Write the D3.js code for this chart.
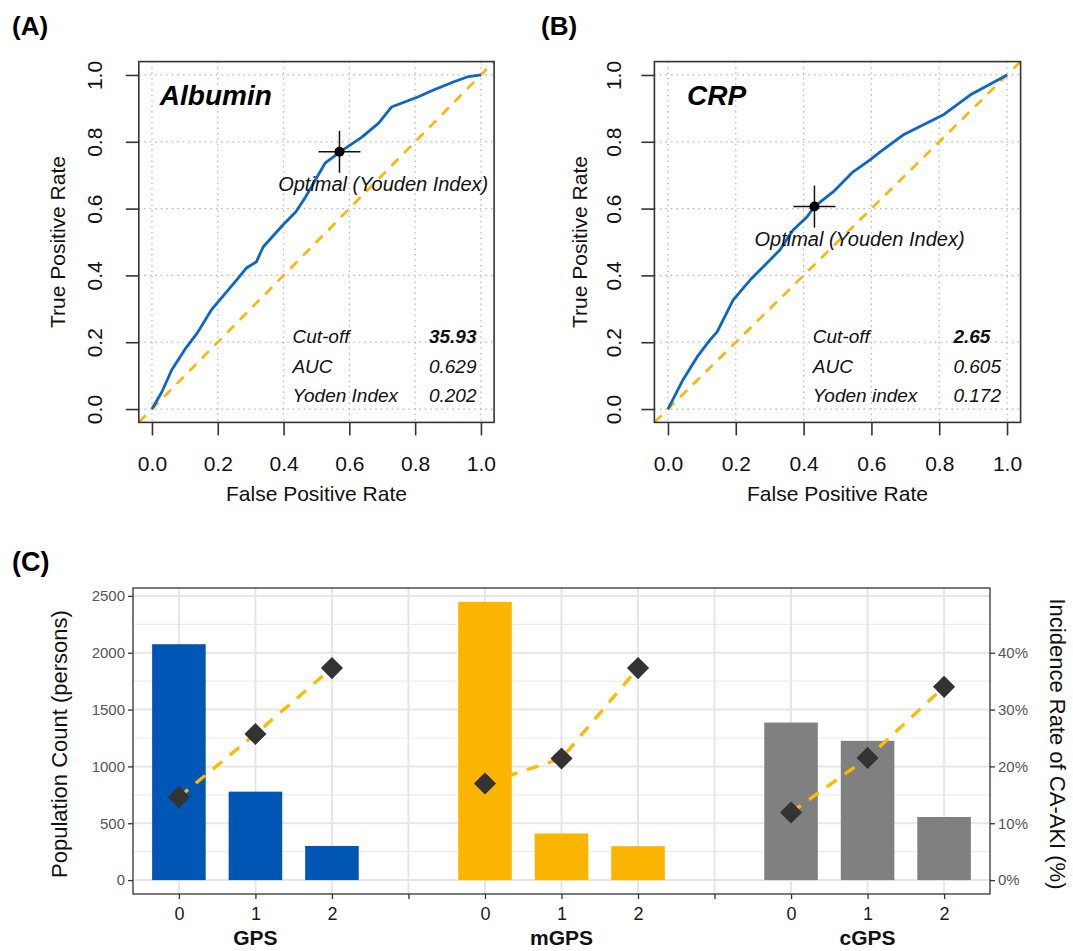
<!DOCTYPE html>
<html>
<head>
<meta charset="utf-8">
<script src="https://cdn.jsdelivr.net/npm/d3@7"></script>
<style>
  body { margin: 0; background: #fff; }
  svg { font-family: "Liberation Sans", Arial, sans-serif; }
</style>
</head>
<body>
<svg id="chart" width="1073" height="951"></svg>
<script>
// ---- ROC data ----
const albuminFpr = [0, 0.03, 0.06, 0.099, 0.138, 0.18, 0.257, 0.287, 0.317, 0.338, 0.398, 0.437, 0.467, 0.527, 0.572, 0.638, 0.689, 0.728, 0.808, 0.856, 0.916, 0.958, 1];
const albuminTpr = [0, 0.051, 0.117, 0.177, 0.228, 0.296, 0.386, 0.422, 0.44, 0.485, 0.551, 0.59, 0.635, 0.737, 0.77, 0.814, 0.856, 0.904, 0.934, 0.955, 0.979, 0.994, 1];
const crpFpr = [0, 0.044, 0.086, 0.124, 0.145, 0.192, 0.242, 0.292, 0.33, 0.369, 0.41, 0.431, 0.457, 0.487, 0.546, 0.596, 0.625, 0.693, 0.752, 0.811, 0.891, 1];
const crpTpr = [0, 0.087, 0.156, 0.207, 0.231, 0.326, 0.386, 0.437, 0.476, 0.536, 0.575, 0.605, 0.626, 0.65, 0.71, 0.746, 0.769, 0.82, 0.85, 0.88, 0.94, 1];
const albuminOptimal = [0.57, 0.77];
const crpOptimal = [0.432, 0.606];
const rocTicks = [0, 0.2, 0.4, 0.6, 0.8, 1.0];
const albuminStatLabels = ["Cut-off", "AUC", "Yoden Index"];
const albuminStatValues = ["35.93", "0.629", "0.202"];
const crpStatLabels = ["Cut-off", "AUC", "Yoden index"];
const crpStatValues = ["2.65", "0.605", "0.172"];

// ---- Panel C data ----
const groups = ["GPS", "mGPS", "cGPS"];
const scores = ["0", "1", "2"];
const gpsCounts = [2075, 778, 300];
const mgpsCounts = [2447, 410, 298];
const cgpsCounts = [1386, 1225, 555];
const gpsRates = [14.6, 25.7, 37.3];
const mgpsRates = [17.0, 21.4, 37.3];
const cgpsRates = [11.9, 21.5, 34.0];
const countTicks = [0, 500, 1000, 1500, 2000, 2500];
const rateTicks = [0, 10, 20, 30, 40];

const barColors = { GPS: "#0056b4", mGPS: "#fbb500", cGPS: "#808080" };
const lineColor = "#ffb900";
const rocBlue = "#0a66c8";

const svg = d3.select("#chart");

// panel letters
svg.append("text").attr("x", 12).attr("y", 35).attr("font-size", 26).attr("font-weight", "bold").text("(A)");
svg.append("text").attr("x", 541).attr("y", 35).attr("font-size", 26).attr("font-weight", "bold").text("(B)");
svg.append("text").attr("x", 12).attr("y", 571).attr("font-size", 27).attr("font-weight", "bold").text("(C)");

//--> ROC panel
function drawRoc(cfg) {
  const x = d3.scaleLinear().domain([-0.04, 1.04]).range([cfg.left, cfg.right]);
  const y = d3.scaleLinear().domain([-0.04, 1.04]).range([422.4, 61.6]);
  const g = svg.append("g");

  // dotted grid
  g.selectAll(".vgrid").data(rocTicks).enter().append("line")
    .attr("x1", d => x(d)).attr("x2", d => x(d))
    .attr("y1", y(1.04)).attr("y2", y(-0.04))
    .attr("stroke", "#b5b5b5").attr("stroke-width", 1.2).attr("stroke-dasharray", "1.5,4");
  g.selectAll(".hgrid").data(rocTicks).enter().append("line")
    .attr("x1", x(-0.04)).attr("x2", x(1.04))
    .attr("y1", d => y(d)).attr("y2", d => y(d))
    .attr("stroke", "#b5b5b5").attr("stroke-width", 1.2).attr("stroke-dasharray", "1.5,4");

  // chance diagonal
  g.append("line")
    .attr("x1", x(-0.04)).attr("y1", y(-0.04)).attr("x2", x(1.04)).attr("y2", y(1.04))
    .attr("stroke", "#ffb400").attr("stroke-width", 2.6).attr("stroke-dasharray", "10,8");

  // ROC curve
  const pts = cfg.fpr.map((f, i) => [f, cfg.tpr[i]]);
  g.append("path").datum(pts)
    .attr("fill", "none").attr("stroke", rocBlue).attr("stroke-width", 2.8)
    .attr("stroke-linejoin", "round")
    .attr("d", d3.line().x(d => x(d[0])).y(d => y(d[1])));

  // optimal point
  const [ox, oy] = cfg.optimal;
  g.append("line").attr("x1", x(ox) - 21).attr("x2", x(ox) + 21).attr("y1", y(oy)).attr("y2", y(oy))
    .attr("stroke", "#111").attr("stroke-width", 1.5);
  g.append("line").attr("x1", x(ox)).attr("x2", x(ox)).attr("y1", y(oy) - 21).attr("y2", y(oy) + 21)
    .attr("stroke", "#111").attr("stroke-width", 1.5);
  g.append("circle").attr("cx", x(ox)).attr("cy", y(oy)).attr("r", 5).attr("fill", "#000");
  g.append("text")
    .attr("x", x(ox + 0.133)).attr("y", y(oy - 0.118))
    .attr("text-anchor", "middle").attr("font-size", 20).attr("font-style", "italic").attr("fill", "#111")
    .text("Optimal (Youden Index)");

  // title
  g.append("text").attr("x", x(cfg.titleX)).attr("y", y(0.91))
    .attr("font-size", 28).attr("font-weight", "bold").attr("font-style", "italic")
    .text(cfg.title);

  // stats table
  const rows = [0.198, 0.108, 0.021];
  cfg.statLabels.forEach((lab, i) => {
    g.append("text").attr("x", x(0.427)).attr("y", y(rows[i]))
      .attr("font-size", 19).attr("font-style", "italic").attr("fill", "#111").text(lab);
    g.append("text").attr("x", x(0.842)).attr("y", y(rows[i]))
      .attr("font-size", 19).attr("font-style", "italic").attr("fill", "#111")
      .attr("font-weight", i === 0 ? "bold" : "normal").text(cfg.statValues[i]);
  });

  // box
  g.append("rect").attr("x", cfg.left).attr("y", 61.6)
    .attr("width", cfg.right - cfg.left).attr("height", 422.4 - 61.6)
    .attr("fill", "none").attr("stroke", "#333").attr("stroke-width", 1.6);

  // axes
  const xAxis = g.append("g").attr("transform", "translate(0,422.4)")
    .call(d3.axisBottom(x).tickValues(rocTicks).tickSize(13).tickPadding(21).tickFormat(d3.format(".1f")));
  const yAxis = g.append("g").attr("transform", `translate(${cfg.left},0)`)
    .call(d3.axisLeft(y).tickValues(rocTicks).tickSize(13).tickFormat(d3.format(".1f")));
  [xAxis, yAxis].forEach(a => {
    a.select(".domain").remove();
    a.selectAll("line").attr("stroke", "#333").attr("stroke-width", 1.6);
    a.selectAll("text").attr("font-size", 21).attr("fill", "#111")
      .attr("font-family", "Liberation Sans, Arial, sans-serif");
  });
  yAxis.selectAll("text")
    .attr("x", 0).attr("dy", 0).attr("text-anchor", "middle")
    .attr("transform", `translate(${cfg.ytickOffset},0) rotate(-90)`);

  g.append("text").attr("x", x(0.5)).attr("y", 501).attr("text-anchor", "middle")
    .attr("font-size", 21).attr("fill", "#111").text("False Positive Rate");
  g.append("text").attr("text-anchor", "middle").attr("font-size", 21).attr("fill", "#111")
    .attr("transform", `translate(${cfg.left + cfg.ylabOffset},${y(0.5)}) rotate(-90)`)
    .text("True Positive Rate");
}

drawRoc({ left: 138.8, right: 494.1, fpr: albuminFpr, tpr: albuminTpr, optimal: albuminOptimal,
  title: "Albumin", titleX: 0.024, statLabels: albuminStatLabels, statValues: albuminStatValues,
  ytickOffset: -37, ylabOffset: -74 });
drawRoc({ left: 654.4, right: 1020.6, fpr: crpFpr, tpr: crpTpr, optimal: crpOptimal,
  title: "CRP", titleX: 0.056, statLabels: crpStatLabels, statValues: crpStatValues,
  ytickOffset: -33, ylabOffset: -67 });

//--> Panel C
const countsBy = { GPS: gpsCounts, mGPS: mgpsCounts, cGPS: cgpsCounts };
const ratesBy = { GPS: gpsRates, mGPS: mgpsRates, cGPS: cgpsRates };
const levels = [];
groups.forEach((grp, gi) => {
  scores.forEach(s => levels.push(`${grp}-${s}`));
  if (gi < groups.length - 1) levels.push(`gap-${gi}`);
});
const rows = [];
groups.forEach(grp => scores.forEach((s, i) => rows.push({
  grp, score: s, key: `${grp}-${s}`, count: countsBy[grp][i], rate: ratesBy[grp][i]
})));

const cLeft = 133, cRight = 990, cTop = 588, cBottom = 894;
const maxCount = d3.max(rows, d => d.count);
const pad = maxCount * 0.05;
const cx = d3.scalePoint().domain(levels).range([cLeft, cRight]).padding(0.6);
const cy = d3.scaleLinear().domain([-pad, maxCount + pad]).range([cBottom, cTop]);
const cyRate = d3.scaleLinear().domain(cy.domain().map(v => v / 50)).range([cBottom, cTop]);

const gc = svg.append("g");
// grid
gc.selectAll(".minor").data(d3.range(250, 2500, 500)).enter().append("line")
  .attr("x1", cLeft).attr("x2", cRight).attr("y1", d => cy(d)).attr("y2", d => cy(d))
  .attr("stroke", "#ececec").attr("stroke-width", 1.2);
gc.selectAll(".major").data(countTicks).enter().append("line")
  .attr("x1", cLeft).attr("x2", cRight).attr("y1", d => cy(d)).attr("y2", d => cy(d))
  .attr("stroke", "#e6e6e6").attr("stroke-width", 2);
gc.selectAll(".vmajor").data(levels).enter().append("line")
  .attr("x1", d => cx(d)).attr("x2", d => cx(d)).attr("y1", cTop).attr("y2", cBottom)
  .attr("stroke", "#e6e6e6").attr("stroke-width", 2);

// bars
const barW = cx.step() * 0.7;
gc.selectAll(".bar").data(rows).enter().append("rect")
  .attr("x", d => cx(d.key) - barW / 2).attr("width", barW)
  .attr("y", d => cy(d.count)).attr("height", d => cy(0) - cy(d.count))
  .attr("fill", d => barColors[d.grp]);

// incidence lines
const rateLine = d3.line().x(d => cx(d.key)).y(d => cyRate(d.rate));
groups.forEach(grp => {
  gc.append("path").datum(rows.filter(r => r.grp === grp))
    .attr("fill", "none").attr("stroke", lineColor).attr("stroke-width", 3.3)
    .attr("stroke-dasharray", "12,10").attr("d", rateLine);
});
gc.selectAll(".diamond").data(rows).enter().append("path")
  .attr("d", d3.symbol(d3.symbolSquare, 245)())
  .attr("transform", d => `translate(${cx(d.key)},${cyRate(d.rate)}) rotate(45)`)
  .attr("fill", "#333");

// border
gc.append("rect").attr("x", cLeft).attr("y", cTop).attr("width", cRight - cLeft).attr("height", cBottom - cTop)
  .attr("fill", "none").attr("stroke", "#333").attr("stroke-width", 1.3);

const leftAxis = gc.append("g").attr("transform", `translate(${cLeft},0)`)
  .call(d3.axisLeft(cy).tickValues(countTicks).tickSize(5).tickPadding(3).tickFormat(d3.format("d")));
const rightAxis = gc.append("g").attr("transform", `translate(${cRight},0)`)
  .call(d3.axisRight(cyRate).tickValues(rateTicks).tickSize(5).tickPadding(3).tickFormat(d => d + "%"));
const bottomAxis = gc.append("g").attr("transform", `translate(0,${cBottom})`)
  .call(d3.axisBottom(cx).tickSize(5).tickPadding(8)
    .tickFormat(d => d.startsWith("gap") ? "" : d.split("-")[1]));
[leftAxis, rightAxis, bottomAxis].forEach(a => {
  a.select(".domain").remove();
  a.selectAll("line").attr("stroke", "#333").attr("stroke-width", 1.3);
  a.selectAll("text").attr("font-family", "Liberation Sans, Arial, sans-serif");
});
leftAxis.selectAll("text").attr("font-size", 15).attr("fill", "#555");
rightAxis.selectAll("text").attr("font-size", 15).attr("fill", "#555");
bottomAxis.selectAll("text").attr("font-size", 18).attr("fill", "#1a1a1a");

groups.forEach(grp => {
  gc.append("text").attr("x", cx(`${grp}-1`)).attr("y", 945).attr("text-anchor", "middle")
    .attr("font-size", 21).attr("font-weight", "bold").attr("fill", "#111").text(grp);
});

gc.append("text").attr("text-anchor", "middle").attr("font-size", 22).attr("fill", "#111")
  .attr("transform", `translate(67,${(cTop + cBottom) / 2 + 3}) rotate(-90)`)
  .text("Population Count (persons)");
gc.append("text").attr("text-anchor", "middle").attr("font-size", 22).attr("fill", "#111")
  .attr("transform", `translate(1050,${(cTop + cBottom) / 2 + 3}) rotate(90)`)
  .text("Incidence Rate of CA-AKI (%)");
</script>
</body>
</html>
